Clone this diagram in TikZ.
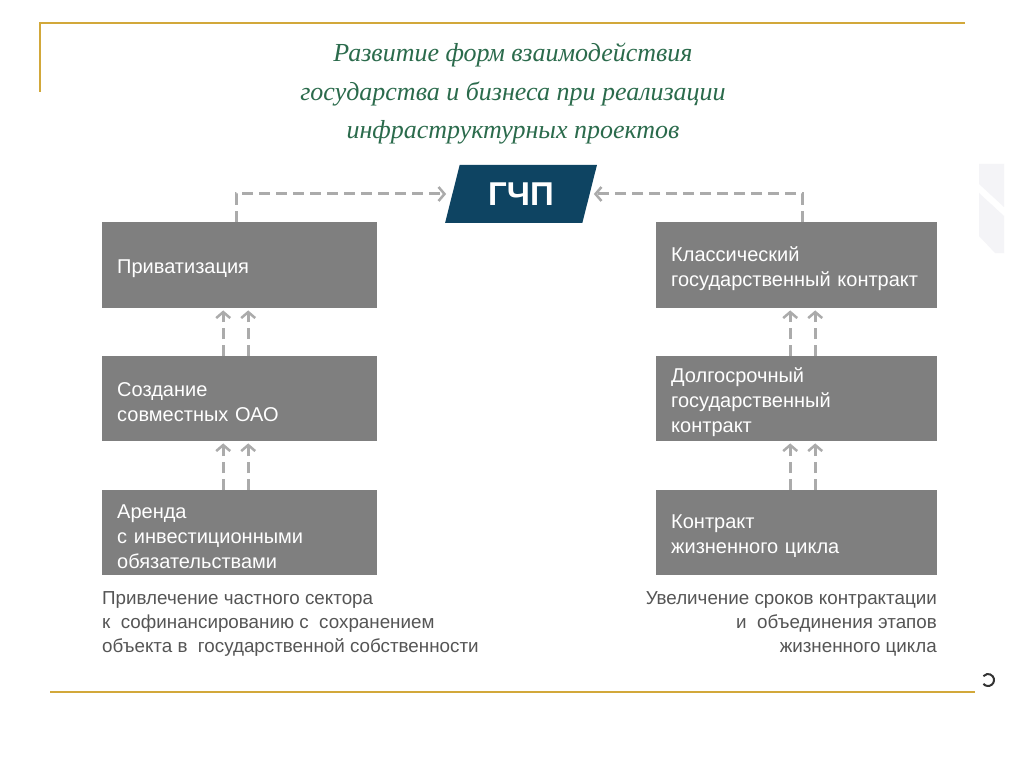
\documentclass[tikz,border=0pt]{standalone}
\usepackage{fontspec}
\setmainfont{Liberation Sans}
\newfontfamily\titlefont{Liberation Serif}
\usetikzlibrary{arrows.meta,shapes.geometric}
\definecolor{gold}{HTML}{D2A83A}
\definecolor{boxgray}{HTML}{7F7F7F}
\definecolor{dashgray}{HTML}{ABABAB}
\definecolor{navy}{HTML}{0E4462}
\definecolor{titlegreen}{HTML}{2B6B4C}
\definecolor{notegray}{HTML}{555555}
\definecolor{faint}{HTML}{F4F4F7}
\definecolor{markdark}{HTML}{333333}
\begin{document}
\begin{tikzpicture}[x=1pt,y=-1pt,
  stagebox/.style={fill=boxgray, text=white, anchor=north west,
    inner xsep=15pt, inner ysep=0pt, align=left,
    execute at begin node={\rule{0pt}{21pt}},
    font=\fontsize{20}{25}\selectfont},
  leftbox/.style={stagebox, text width=245pt},
  rightbox/.style={stagebox, text width=251pt},
  dashline/.style={draw=dashgray, line width=3pt, dash pattern=on 11pt off 6pt},
  chevron/.style={-{Straight Barb[length=6pt,width=14pt,line width=2.5pt]}},
  note/.style={text=notegray, inner sep=0pt, font=\fontsize{18.8}{24}\selectfont}
]
\useasboundingbox (0,0) rectangle (1024,767);
\fill[white] (0,0) rectangle (1024,767);

% frame lines
\draw[gold, line width=2.5pt] (40,92) -- (40,23) -- (965,23);
\draw[gold, line width=2.5pt] (50,692) -- (975,692);
\draw[markdark, line width=2pt] (988,680) ++(140:6) arc[start angle=140, end angle=-140, radius=6];

% faint decoration at right edge
\fill[faint] (979,164) -- (1004,164) -- (1004,207) -- (979,184) -- cycle;
\fill[faint] (979,193) -- (1004,216) -- (1004,253) -- (995,253) -- (979,236) -- cycle;

% title
\node[font=\titlefont\itshape\fontsize{26}{38.5}\selectfont, text=titlegreen, align=center] (title) at (513,94)
  {Развитие форм взаимодействия\\государства и бизнеса при реализации\\инфраструктурных проектов};

% central node
\node[trapezium, trapezium left angle=71, trapezium right angle=109, trapezium stretches=true,
  fill=navy, text=white, minimum height=58pt, minimum width=152pt, inner sep=0pt,
  font=\bfseries\fontsize{33}{33}\selectfont] (gcp) at (521,194) {ГЧП};

% left column
\node[leftbox, minimum height=86pt] (priv) at (102,222) {Приватизация};
\node[leftbox, minimum height=85pt] (sozd) at (102,356) {Создание\\совместных ОАО};
\node[leftbox, minimum height=85pt] (arenda) at (102,490) {Аренда\\с инвестиционными\\обязательствами};

% right column
\node[rightbox, minimum height=86pt] (klass) at (656,222) {Классический\\государственный контракт};
\node[rightbox, minimum height=85pt] (dolg) at (656,356) {Долгосрочный\\государственный\\контракт};
\node[rightbox, minimum height=85pt] (cycle) at (656,490) {Контракт\\жизненного цикла};

% notes
\node[note, anchor=north west, align=left] (noteL) at (102,591)
  {Привлечение частного сектора\\к\ \ софинансированию с\ \ сохранением\\объекта в\ \ государственной собственности};
\node[note, anchor=north east, align=right] (noteR) at (937,591)
  {Увеличение сроков контрактации\\и\ \ объединения этапов\\жизненного цикла};

% connectors to GCP
\draw[dashline, chevron, shorten >=6pt] ([xshift=-3.5pt]priv.north) |- (gcp.west);
\draw[dashline, chevron, shorten >=4pt] ([xshift=5.5pt]klass.north) |- (gcp.east);

% upward double arrows
\foreach \dx in {-16.5,8.5} {
  \draw[dashline, chevron, shorten >=2pt] ([xshift=\dx pt]sozd.north) -- ([xshift=\dx pt]priv.south);
  \draw[dashline, chevron, shorten >=2pt] ([xshift=\dx pt]arenda.north) -- ([xshift=\dx pt]sozd.south);
}
\foreach \dx in {-6.5,18.5} {
  \draw[dashline, chevron, shorten >=2pt] ([xshift=\dx pt]dolg.north) -- ([xshift=\dx pt]klass.south);
  \draw[dashline, chevron, shorten >=2pt] ([xshift=\dx pt]cycle.north) -- ([xshift=\dx pt]dolg.south);
}
\end{tikzpicture}
\end{document}
